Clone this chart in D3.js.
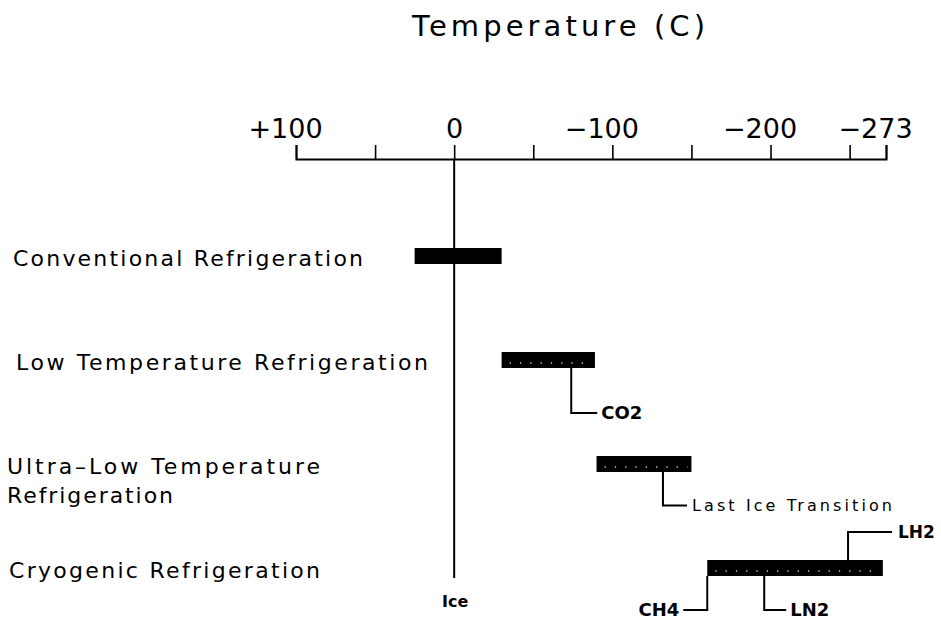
<!DOCTYPE html>
<html>
<head>
<meta charset="utf-8">
<script src="https://cdn.jsdelivr.net/npm/d3@7"></script>
<style>
  body { margin: 0; background: #fff; }
  svg { display: block; font-family: "DejaVu Sans", sans-serif; }
</style>
</head>
<body>
<script>
const categories = ["Conventional Refrigeration", "Low Temperature Refrigeration", "Ultra-Low Temperature Refrigeration", "Cryogenic Refrigeration"]
const labelLines = [["Conventional Refrigeration"], ["Low Temperature Refrigeration"], ["Ultra–Low Temperature", "Refrigeration"], ["Cryogenic Refrigeration"]]
const rangeWarm = [25, -30, -90, -160]
const rangeCold = [-30, -89, -150, -271]
const tickValues = [100, 50, 0, -50, -100, -150, -200, -250, -273]
const labeledTicks = [100, 0, -100, -200, -273]
const markerNames = ["CO2", "Last Ice Transition", "CH4", "LN2", "LH2"]
const markerTemps = [-74, -132, -160, -196, -249]
const markerRows = [1, 2, 3, 3, 3]
const title = "Temperature (C)"

const width = 941
const height = 626
const axisY = 159
const barH = 16

// leader line shapes, by marker
const leaders = {
  "CO2": { dy: 53, dx: 26, gap: 4, size: 18 },
  "Last Ice Transition": { dy: 41.5, dx: 24, gap: 5, size: 16, w: 200, light: true },
  "CH4": { dy: 42, dx: -24, gap: 4, size: 18 },
  "LN2": { dy: 42, dx: 22, gap: 4, size: 18 },
  "LH2": { dy: -36, dx: 44, gap: 6, size: 17 }
}
const labelX = [13, 16, 7, 9]
const labelW = [[350], [412], [313, 166], [311]]

const x = d3.scaleLinear().domain([100, -273]).range([296, 886])
const y = d3.scalePoint().domain(categories).range([256, 568])

const fmt = d => d > 0 ? "+" + d : d < 0 ? "−" + (-d) : "0"

const svg = d3.select("body").append("svg")
    .attr("width", width)
    .attr("height", height)
    .attr("viewBox", [0, 0, width, height])

svg.append("text")
    .attr("x", 412)
    .attr("y", 36)
    .attr("font-size", 29)
    .attr("textLength", 293)
    .attr("lengthAdjust", "spacing")
    .text(title)

const axis = svg.append("g")
    .attr("transform", `translate(0,${axisY})`)
    .call(d3.axisTop(x)
      .tickValues(tickValues)
      .tickSize(14)
      .tickPadding(7)
      .tickFormat(d => labeledTicks.includes(d) ? fmt(d) : ""))
axis.select(".domain").attr("stroke-width", 2)
axis.selectAll(".tick line").attr("stroke-width", 1.6)
axis.selectAll(".tick text")
    .attr("font-family", "DejaVu Sans, sans-serif")
    .attr("font-size", 27)
    .attr("fill", "#000")
    .attr("dx", d => d === 0 ? 0 : -11)

svg.append("line")
    .attr("x1", x(0))
    .attr("x2", x(0))
    .attr("y1", axisY)
    .attr("y2", 578)
    .attr("stroke", "#000")
    .attr("stroke-width", 2)

svg.append("text")
    .attr("x", x(0) + 1)
    .attr("y", 607)
    .attr("text-anchor", "middle")
    .attr("font-size", 16)
    .attr("font-weight", "bold")
    .text("Ice")

const rows = categories.map((c, i) => ({ c, i, warm: rangeWarm[i], cold: rangeCold[i], lines: labelLines[i] }))

const label = svg.append("g")
  .selectAll("text")
  .data(rows)
  .join("text")
    .attr("font-size", 22)
    .attr("fill", "#000")
    .each(function (d) {
      d3.select(this).selectAll("tspan")
        .data(d.lines)
        .join("tspan")
          .attr("x", labelX[d.i])
          .attr("y", (l, j) => y(d.c) + 10 + j * 29)
          .attr("textLength", (l, j) => labelW[d.i][j])
          .attr("lengthAdjust", "spacing")
          .text(l => l)
    })

svg.append("g")
  .selectAll("rect")
  .data(rows)
  .join("rect")
    .attr("x", d => x(d.warm))
    .attr("y", d => y(d.c) - barH / 2)
    .attr("width", d => x(d.cold) - x(d.warm))
    .attr("height", barH)
    .attr("fill", "#000")

svg.append("g")
  .selectAll("line")
  .data(rows.filter(d => d.i > 0))
  .join("line")
    .attr("x1", d => x(d.warm) + 8)
    .attr("x2", d => x(d.cold) - 4)
    .attr("y1", d => y(d.c) + 3)
    .attr("y2", d => y(d.c) + 3)
    .attr("stroke", "#fff")
    .attr("stroke-width", 1.3)
    .attr("stroke-dasharray", "1.3 9")
    .attr("opacity", 0.8)

const markers = markerNames.map((name, i) => ({ name, t: markerTemps[i], c: categories[markerRows[i]], ...leaders[name] }))

const mark = svg.append("g")
  .selectAll("g")
  .data(markers)
  .join("g")

mark.append("path")
    .attr("fill", "none")
    .attr("stroke", "#000")
    .attr("stroke-width", 2)
    .attr("d", d => {
      const x0 = x(d.t)
      const y0 = y(d.c) + (d.dy > 0 ? barH / 2 : -barH / 2)
      const y1 = y(d.c) + d.dy
      return `M${x0},${y0}V${y1}H${x0 + d.dx}`
    })

mark.append("text")
    .attr("x", d => x(d.t) + d.dx + (d.dx > 0 ? d.gap : -d.gap))
    .attr("y", d => y(d.c) + d.dy)
    .attr("dy", "0.36em")
    .attr("text-anchor", d => d.dx > 0 ? "start" : "end")
    .attr("font-size", d => d.size)
    .attr("font-weight", d => d.light ? "normal" : "bold")
    .each(function (d) {
      if (d.w) d3.select(this).attr("textLength", d.w).attr("lengthAdjust", "spacing")
    })
    .text(d => d.name)
</script>
</body>
</html>
